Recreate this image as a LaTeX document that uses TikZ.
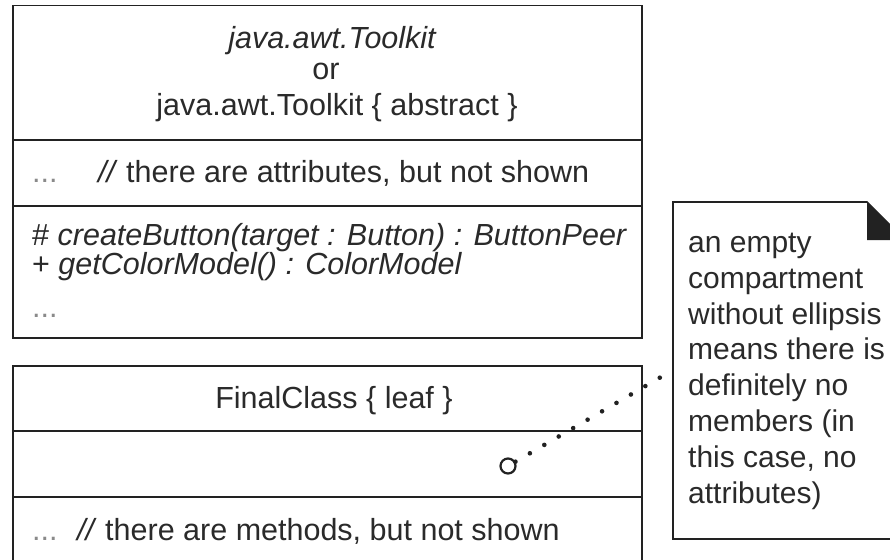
\documentclass[tikz,border=0pt]{standalone}
\usepackage{fontspec}
\setmainfont{Liberation Sans}
\definecolor{linec}{HTML}{222222}
\definecolor{textc}{HTML}{2A2A2A}
\definecolor{ellc}{HTML}{8A8A8A}
\begin{document}
\begin{tikzpicture}[x=1pt,y=-1pt,
  box/.style={draw=linec, line width=1.6pt, inner sep=0pt},
  txt/.style={inner sep=0pt, text=textc, font=\fontsize{30.5}{34}\selectfont},
  ell/.style={txt, text=ellc},
  sep/.style={draw=linec, line width=1.6pt},
  pinline/.style={draw=linec, line width=4.6pt, line cap=round, dash pattern=on 0pt off 16.7pt},
]
\clip (0,0) rectangle (890,559);
\fill[white] (0,0) rectangle (890,559);

% ---- abstract class box
\node[box, minimum width=629pt, minimum height=332.5pt] (toolkit) at (327.35,171.75) {};
\draw[sep] (toolkit.west |- 0,140) -- (toolkit.east |- 0,140);
\draw[sep] (toolkit.west |- 0,206) -- (toolkit.east |- 0,206);
\node[txt, anchor=base] (tkname) at (332,49) {\itshape java.awt.Toolkit};
\node[txt, anchor=base] (tkor) at (326,80) {or};
\node[txt, anchor=base] (tkabs) at (337,115) {java.awt.Toolkit \{ abstract \}};
\node[ell, anchor=base west] (tkattrell) at (32,182) {...};
\node[txt, anchor=base west] (tkattr) at (98,182) {\textit{//} there are attributes, but not shown};
\node[txt, anchor=base west] (tkm1) at (32,245) {\# \textit{createButton(target : Button) : ButtonPeer}};
\node[txt, anchor=base west] (tkm2) at (32,274) {+ \textit{getColorModel() : ColorModel}};
\node[ell, anchor=base west] (tkmell) at (32,317) {...};

% ---- final class box
\node[box, minimum width=629pt, minimum height=254pt] (final) at (327.35,493) {};
\draw[sep] (final.west |- 0,431) -- (final.east |- 0,431);
\draw[sep] (final.west |- 0,497) -- (final.east |- 0,497);
\node[txt, anchor=base] (fname) at (334,408) {FinalClass \{ leaf \}};
\node[ell, anchor=base west] (fmell) at (32,540) {...};
\node[txt, anchor=base west] (fmeth) at (77,540) {\textit{//} there are methods, but not shown};

% ---- note
\draw[box] (673,202) -- (867,202) -- (905,240) -- (905,539) -- (673,539) -- cycle;
\fill[linec] (867,202) -- (867,240) -- (905,240) -- cycle;
\node[txt, align=left, anchor=base west, font=\fontsize{30}{35.8}\selectfont] (note) at (688,503)
  {an empty\\compartment\\without ellipsis\\means there is\\definitely no\\members (in\\this case, no\\attributes)};

% ---- anchor from note to empty compartment
\node[draw=linec, circle, line width=2.2pt, minimum size=15pt, inner sep=0pt] (pin) at (508,466) {};
\coordinate (na) at (673,370);
\draw[pinline] (pin) -- (na);
\end{tikzpicture}
\end{document}
